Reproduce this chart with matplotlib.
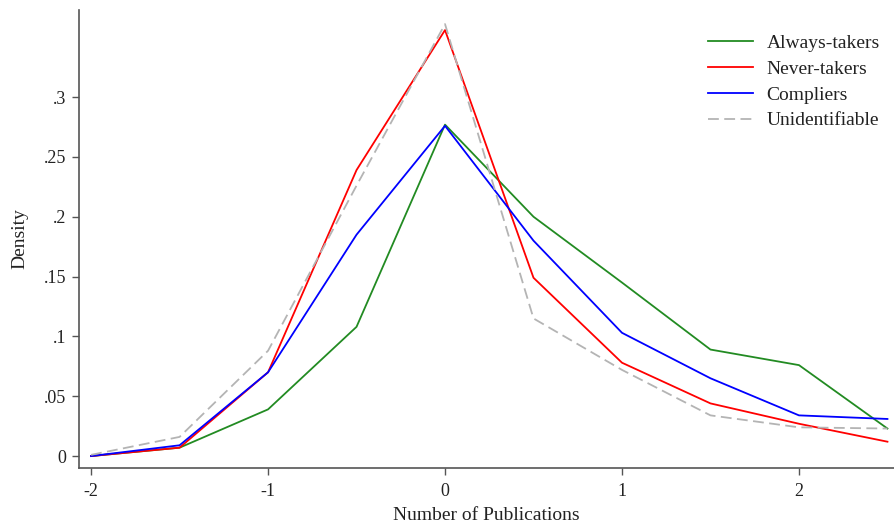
import matplotlib
matplotlib.use("Agg")
import matplotlib.pyplot as plt

plt.rcParams['font.family'] = ['Liberation Serif', 'DejaVu Serif']

x = [-2, -1.5, -1, -0.5, 0, 0.5, 1, 1.5, 2, 2.5]
always_takers = [0.0, 0.007, 0.039, 0.108, 0.277, 0.200, 0.145, 0.089, 0.076, 0.023]
never_takers = [0.0, 0.007, 0.070, 0.239, 0.356, 0.149, 0.078, 0.044, 0.027, 0.012]
compliers = [0.0, 0.009, 0.070, 0.185, 0.276, 0.180, 0.103, 0.065, 0.034, 0.031]
unidentifiable = [0.001, 0.016, 0.088, 0.226, 0.361, 0.115, 0.072, 0.034, 0.024, 0.023]

xticks = [-2, -1, 0, 1, 2]
yticks = [0, 0.05, 0.1, 0.15, 0.2, 0.25, 0.3]
yticklabels = ["0", ".05", ".1", ".15", ".2", ".25", ".3"]

fig = plt.figure(figsize=(8.94, 5.31), dpi=100)
ax = fig.add_axes([0.0884, 0.1186, 0.9116, 0.8624])

ax.plot(x, always_takers, color='#228b22', lw=1.3, label='Always-takers')
ax.plot(x, never_takers, color='#ff0000', lw=1.3, label='Never-takers')
ax.plot(x, compliers, color='#0000ff', lw=1.3, label='Compliers')
ax.plot(x, unidentifiable, color='#b4b4b4', lw=1.3, ls=(0, (6, 3)), label='Unidentifiable')

ax.set_xlim(-2.068, 2.537)
ax.set_ylim(-0.010, 0.3727)
ax.set_xticks(xticks)
ax.set_xticklabels([str(t) for t in xticks])
ax.set_yticks(yticks)
ax.set_yticklabels(yticklabels)

for s in ['top', 'right']:
    ax.spines[s].set_visible(False)
for s in ['left', 'bottom']:
    ax.spines[s].set_color('#555555')
    ax.spines[s].set_linewidth(1.2)

ax.tick_params(axis='both', direction='out', length=5, width=1, color='#555555',
               labelsize=13, labelcolor='#222222')
ax.tick_params(axis='x', pad=6)
ax.tick_params(axis='y', pad=4)

ax.set_xlabel('Number of Publications', fontsize=14, color='#222222', labelpad=5)
ax.set_ylabel('Density', fontsize=14, color='#222222', labelpad=11)

ax.legend(loc='upper right', bbox_to_anchor=(1.004, 0.985), frameon=False, fontsize=14,
          handlelength=2.3, handletextpad=0.7, labelspacing=0.42, labelcolor='#222222')

fig.savefig('out.png', dpi=100, facecolor='white')
